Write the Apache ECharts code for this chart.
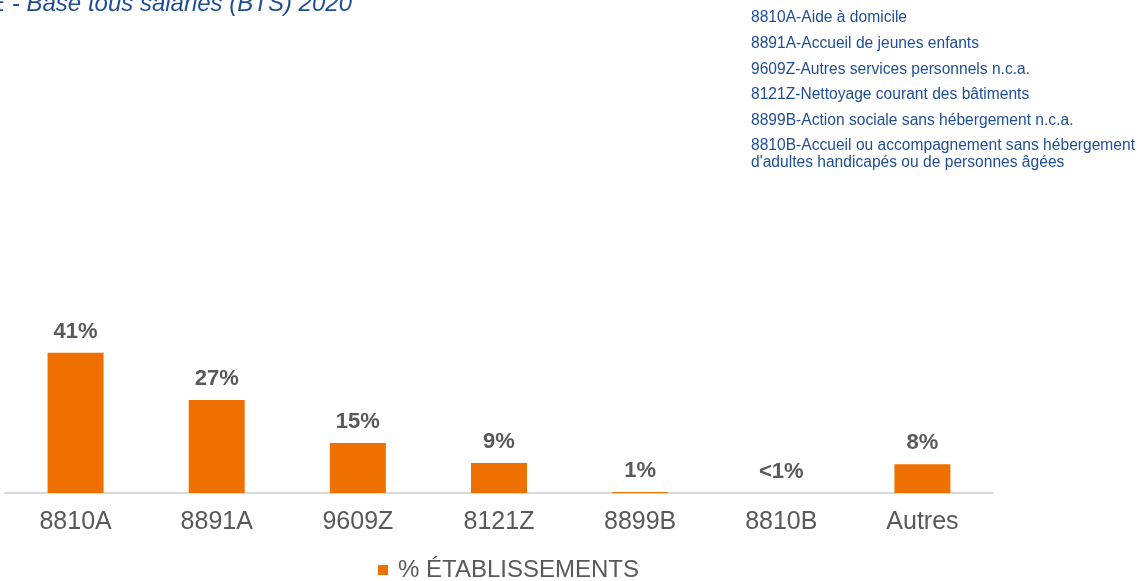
<!DOCTYPE html>
<html>
<head>
<meta charset="utf-8">
<script src="https://cdn.jsdelivr.net/npm/echarts@6/dist/echarts.min.js"></script>
<style>
html,body{margin:0;padding:0;background:#fff;}
#chart{width:1148px;height:581px;}
</style>
</head>
<body>
<div id="chart"></div>
<script>
const categories = ["8810A", "8891A", "9609Z", "8121Z", "8899B", "8810B", "Autres"];
const values = [41, 27.2, 14.6, 8.8, 0.3, 0, 8.4];
const valueLabels = ["41%", "27%", "15%", "9%", "1%", "<1%", "8%"];
const seriesName = "% ÉTABLISSEMENTS";
const titleText = "E - Base tous salariés (BTS) 2020";
const codeNotes = [
  "8810A-Aide à domicile",
  "8891A-Accueil de jeunes enfants",
  "9609Z-Autres services personnels n.c.a.",
  "8121Z-Nettoyage courant des bâtiments",
  "8899B-Action sociale sans hébergement n.c.a.",
  "8810B-Accueil ou accompagnement sans hébergement\nd'adultes handicapés ou de personnes âgées"
];

const FONT = "'Liberation Sans', Arial, sans-serif";
const BLUE = "#1f4e96";
const ORANGE = "#ED7000";
const GREY = "#595959";

const noteElems = codeNotes.map((t, i) => ({
  type: "text",
  left: 751,
  top: 18 + i * 25.6 - 8.5,
  style: {
    text: t,
    fill: BLUE,
    font: "15.6px " + FONT,
    lineHeight: 17
  }
}));

const chart = echarts.init(document.getElementById("chart"));
chart.setOption({
  animation: false,
  backgroundColor: "#fff",
  grid: { left: 5, right: 155, top: 322, bottom: 88, containLabel: false },
  xAxis: {
    type: "category",
    data: categories,
    axisLine: { lineStyle: { color: "#d9d9d9", width: 2 } },
    axisTick: { show: false },
    axisLabel: { color: GREY, fontSize: 25, fontFamily: FONT, margin: 17 }
  },
  yAxis: { type: "value", min: 0, max: 50, show: false, splitLine: { show: false } },
  legend: {
    data: [seriesName],
    left: 373,
    top: 553,
    itemWidth: 10,
    itemHeight: 10,
    icon: "rect",
    textStyle: { color: GREY, fontSize: 24, fontFamily: FONT, padding: [0, 0, 0, 5] }
  },
  series: [{
    name: seriesName,
    type: "bar",
    data: values,
    barWidth: 56,
    itemStyle: { color: ORANGE },
    label: {
      show: true,
      position: "top",
      distance: 10,
      color: GREY,
      fontSize: 22,
      fontWeight: "bold",
      fontFamily: FONT,
      formatter: p => valueLabels[p.dataIndex]
    }
  }],
  graphic: [
    {
      type: "text",
      right: 1148 - 352,
      top: -8,
      style: {
        text: titleText,
        fill: BLUE,
        font: "italic 24px " + FONT
      }
    },
    ...noteElems
  ]
});
</script>
</body>
</html>
